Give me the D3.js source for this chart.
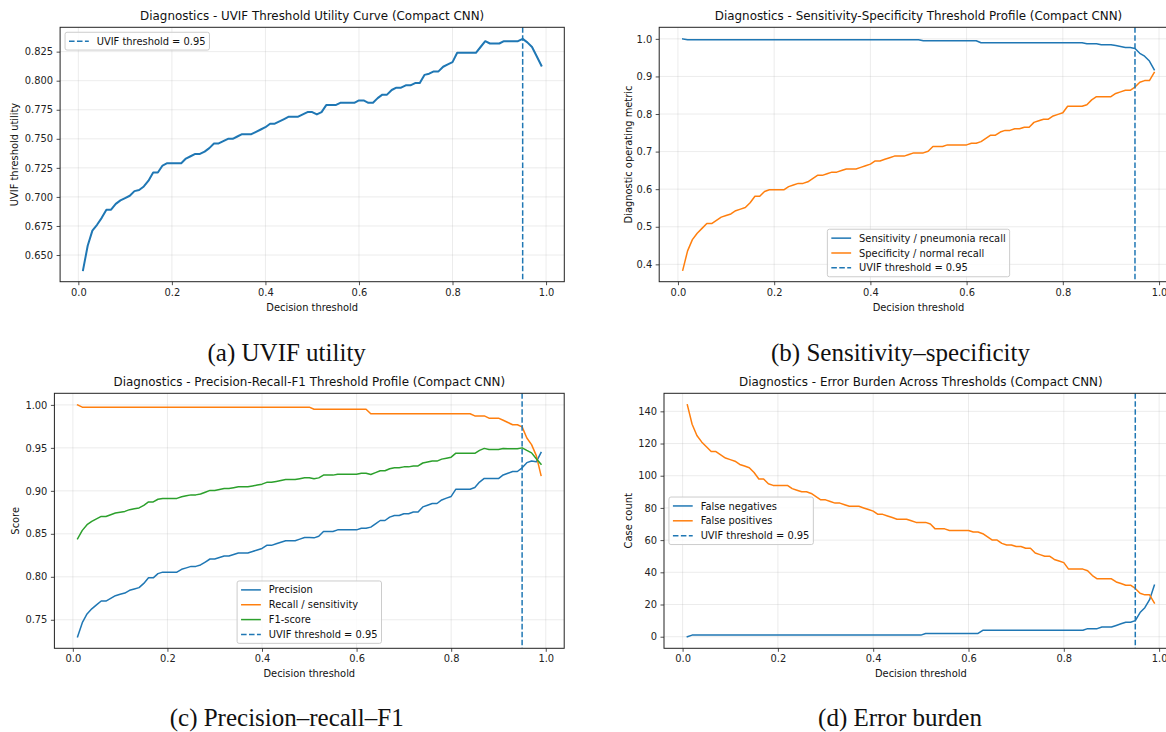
<!DOCTYPE html>
<html>
<head>
<meta charset="utf-8">
<script src="https://cdn.jsdelivr.net/npm/d3@7"></script>
<style>
    body { margin: 0; background: #fff; }
    svg { display: block; font-family: "DejaVu Sans", sans-serif; }
</style>
</head>
<body>
<svg id="chart" width="1166" height="732"></svg>
<script>
// decision thresholds 0.01 .. 0.99
const thresholds = [
    0.01, 0.02, 0.03, 0.04, 0.05, 0.06, 0.07, 0.08, 0.09, 0.10,
    0.11, 0.12, 0.13, 0.14, 0.15, 0.16, 0.17, 0.18, 0.19, 0.20,
    0.21, 0.22, 0.23, 0.24, 0.25, 0.26, 0.27, 0.28, 0.29, 0.30,
    0.31, 0.32, 0.33, 0.34, 0.35, 0.36, 0.37, 0.38, 0.39, 0.40,
    0.41, 0.42, 0.43, 0.44, 0.45, 0.46, 0.47, 0.48, 0.49, 0.50,
    0.51, 0.52, 0.53, 0.54, 0.55, 0.56, 0.57, 0.58, 0.59, 0.60,
    0.61, 0.62, 0.63, 0.64, 0.65, 0.66, 0.67, 0.68, 0.69, 0.70,
    0.71, 0.72, 0.73, 0.74, 0.75, 0.76, 0.77, 0.78, 0.79, 0.80,
    0.81, 0.82, 0.83, 0.84, 0.85, 0.86, 0.87, 0.88, 0.89, 0.90,
    0.91, 0.92, 0.93, 0.94, 0.95, 0.96, 0.97, 0.98, 0.99
];

const uvifUtility = [
    0.637, 0.658, 0.671, 0.676, 0.682, 0.689, 0.689, 0.694, 0.697, 0.699,
    0.701, 0.705, 0.706, 0.709, 0.714, 0.721, 0.721, 0.727, 0.729, 0.729,
    0.729, 0.729, 0.733, 0.735, 0.737, 0.737, 0.739, 0.742, 0.746, 0.746,
    0.748, 0.750, 0.750, 0.752, 0.754, 0.754, 0.754, 0.756, 0.758, 0.760,
    0.763, 0.763, 0.765, 0.767, 0.769, 0.769, 0.769, 0.771, 0.773, 0.773,
    0.771, 0.773, 0.779, 0.779, 0.779, 0.781, 0.781, 0.781, 0.781, 0.783,
    0.783, 0.781, 0.781, 0.785, 0.788, 0.788, 0.792, 0.794, 0.794, 0.796,
    0.796, 0.798, 0.798, 0.805, 0.806, 0.808, 0.808, 0.812, 0.814, 0.816,
    0.824, 0.824, 0.824, 0.824, 0.824, 0.829, 0.834, 0.832, 0.832, 0.832,
    0.834, 0.834, 0.834, 0.834, 0.836, 0.833, 0.829, 0.821, 0.813
];

const sensitivity = [
    1.0000, 0.9974, 0.9974, 0.9974, 0.9974, 0.9974, 0.9974, 0.9974, 0.9974, 0.9974,
    0.9974, 0.9974, 0.9974, 0.9974, 0.9974, 0.9974, 0.9974, 0.9974, 0.9974, 0.9974,
    0.9974, 0.9974, 0.9974, 0.9974, 0.9974, 0.9974, 0.9974, 0.9974, 0.9974, 0.9974,
    0.9974, 0.9974, 0.9974, 0.9974, 0.9974, 0.9974, 0.9974, 0.9974, 0.9974, 0.9974,
    0.9974, 0.9974, 0.9974, 0.9974, 0.9974, 0.9974, 0.9974, 0.9974, 0.9974, 0.9974,
    0.9949, 0.9949, 0.9949, 0.9949, 0.9949, 0.9949, 0.9949, 0.9949, 0.9949, 0.9949,
    0.9949, 0.9949, 0.9897, 0.9897, 0.9897, 0.9897, 0.9897, 0.9897, 0.9897, 0.9897,
    0.9897, 0.9897, 0.9897, 0.9897, 0.9897, 0.9897, 0.9897, 0.9897, 0.9897, 0.9897,
    0.9897, 0.9897, 0.9897, 0.9897, 0.9872, 0.9872, 0.9872, 0.9846, 0.9846, 0.9846,
    0.9821, 0.9795, 0.9769, 0.9769, 0.9744, 0.9615, 0.9538, 0.9410, 0.9179
];

const specificity = [
    0.3846, 0.4359, 0.4658, 0.4829, 0.4957, 0.5085, 0.5085, 0.5171, 0.5256, 0.5299,
    0.5342, 0.5427, 0.5470, 0.5513, 0.5641, 0.5812, 0.5812, 0.5940, 0.5983, 0.5983,
    0.5983, 0.5983, 0.6068, 0.6111, 0.6154, 0.6154, 0.6197, 0.6282, 0.6368, 0.6368,
    0.6410, 0.6453, 0.6453, 0.6496, 0.6538, 0.6538, 0.6538, 0.6581, 0.6624, 0.6667,
    0.6752, 0.6752, 0.6795, 0.6838, 0.6880, 0.6880, 0.6880, 0.6923, 0.6966, 0.6966,
    0.6966, 0.7009, 0.7137, 0.7137, 0.7137, 0.7179, 0.7179, 0.7179, 0.7179, 0.7179,
    0.7222, 0.7222, 0.7265, 0.7350, 0.7436, 0.7436, 0.7521, 0.7564, 0.7564, 0.7607,
    0.7607, 0.7650, 0.7650, 0.7778, 0.7821, 0.7863, 0.7863, 0.7949, 0.7991, 0.8034,
    0.8205, 0.8205, 0.8205, 0.8205, 0.8248, 0.8376, 0.8462, 0.8462, 0.8462, 0.8462,
    0.8547, 0.8590, 0.8632, 0.8632, 0.8718, 0.8846, 0.8889, 0.8889, 0.9103
];

const precision = [
    0.7303, 0.7466, 0.7568, 0.7627, 0.7673, 0.7718, 0.7718, 0.7749, 0.7780, 0.7796,
    0.7811, 0.7843, 0.7859, 0.7874, 0.7923, 0.7988, 0.7988, 0.8037, 0.8054, 0.8054,
    0.8054, 0.8054, 0.8087, 0.8104, 0.8121, 0.8121, 0.8138, 0.8172, 0.8207, 0.8207,
    0.8224, 0.8242, 0.8242, 0.8259, 0.8277, 0.8277, 0.8277, 0.8294, 0.8312, 0.8330,
    0.8366, 0.8366, 0.8384, 0.8402, 0.8420, 0.8420, 0.8420, 0.8438, 0.8457, 0.8457,
    0.8453, 0.8472, 0.8527, 0.8527, 0.8527, 0.8546, 0.8546, 0.8546, 0.8546, 0.8546,
    0.8565, 0.8565, 0.8578, 0.8616, 0.8655, 0.8655, 0.8694, 0.8713, 0.8713, 0.8733,
    0.8733, 0.8753, 0.8753, 0.8813, 0.8833, 0.8853, 0.8853, 0.8894, 0.8915, 0.8935,
    0.9019, 0.9019, 0.9019, 0.9019, 0.9038, 0.9102, 0.9145, 0.9143, 0.9143, 0.9143,
    0.9185, 0.9205, 0.9225, 0.9225, 0.9268, 0.9328, 0.9347, 0.9338, 0.9446
];

const f1Score = [
    0.8442, 0.8540, 0.8606, 0.8644, 0.8673, 0.8702, 0.8702, 0.8722, 0.8742, 0.8751,
    0.8761, 0.8781, 0.8791, 0.8801, 0.8831, 0.8871, 0.8871, 0.8902, 0.8912, 0.8912,
    0.8912, 0.8912, 0.8932, 0.8943, 0.8953, 0.8953, 0.8963, 0.8984, 0.9005, 0.9005,
    0.9015, 0.9026, 0.9026, 0.9036, 0.9047, 0.9047, 0.9047, 0.9057, 0.9068, 0.9078,
    0.9099, 0.9099, 0.9110, 0.9121, 0.9131, 0.9131, 0.9131, 0.9142, 0.9153, 0.9153,
    0.9140, 0.9151, 0.9183, 0.9183, 0.9183, 0.9194, 0.9194, 0.9194, 0.9194, 0.9194,
    0.9205, 0.9205, 0.9190, 0.9212, 0.9234, 0.9234, 0.9257, 0.9268, 0.9268, 0.9279,
    0.9279, 0.9290, 0.9290, 0.9324, 0.9335, 0.9346, 0.9346, 0.9369, 0.9380, 0.9392,
    0.9438, 0.9438, 0.9438, 0.9438, 0.9436, 0.9471, 0.9494, 0.9481, 0.9481, 0.9481,
    0.9492, 0.9491, 0.9489, 0.9489, 0.9500, 0.9470, 0.9442, 0.9374, 0.9311
];

const falseNegatives = [
    0, 1, 1, 1, 1, 1, 1, 1, 1, 1,
    1, 1, 1, 1, 1, 1, 1, 1, 1, 1,
    1, 1, 1, 1, 1, 1, 1, 1, 1, 1,
    1, 1, 1, 1, 1, 1, 1, 1, 1, 1,
    1, 1, 1, 1, 1, 1, 1, 1, 1, 1,
    2, 2, 2, 2, 2, 2, 2, 2, 2, 2,
    2, 2, 4, 4, 4, 4, 4, 4, 4, 4,
    4, 4, 4, 4, 4, 4, 4, 4, 4, 4,
    4, 4, 4, 4, 5, 5, 5, 6, 6, 6,
    7, 8, 9, 9, 10, 15, 18, 23, 32
];

const falsePositives = [
    144, 132, 125, 121, 118, 115, 115, 113, 111, 110,
    109, 107, 106, 105, 102, 98, 98, 95, 94, 94,
    94, 94, 92, 91, 90, 90, 89, 87, 85, 85,
    84, 83, 83, 82, 81, 81, 81, 80, 79, 78,
    76, 76, 75, 74, 73, 73, 73, 72, 71, 71,
    71, 70, 67, 67, 67, 66, 66, 66, 66, 66,
    65, 65, 64, 62, 60, 60, 58, 57, 57, 56,
    56, 55, 55, 52, 51, 50, 50, 48, 47, 46,
    42, 42, 42, 42, 41, 38, 36, 36, 36, 36,
    34, 33, 32, 32, 30, 27, 26, 26, 21
];

const uvifThreshold = 0.95;

const xTicks = [0.0, 0.2, 0.4, 0.6, 0.8, 1.0];
const utilityTicks = [0.650, 0.675, 0.700, 0.725, 0.750, 0.775, 0.800, 0.825];
const operatingTicks = [0.4, 0.5, 0.6, 0.7, 0.8, 0.9, 1.0];
const scoreTicks = [0.75, 0.80, 0.85, 0.90, 0.95, 1.00];
const countTicks = [0, 20, 40, 60, 80, 100, 120, 140];

const BLUE = "#1f77b4", ORANGE = "#ff7f0e", GREEN = "#2ca02c";
const FS = 9.9, TITLE_FS = 11.9;
const thresholdLabel = `UVIF threshold = ${uvifThreshold}`;

const panels = [
    {
        box: { left: 60.1, right: 564.3, top: 27.3, bottom: 281.7 },
        title: "Diagnostics - UVIF Threshold Utility Curve (Compact CNN)",
        ylabel: "UVIF threshold utility", ylabelX: 15,
        yTicks: utilityTicks, yFormat: ".3f",
        series: [{ values: uvifUtility, color: BLUE, width: 2 }],
        legendLoc: "upper left",
        caption: "(a) UVIF utility", captionX: 286.7, captionY: 360.5
    },
    {
        box: { left: 659.2, right: 1177.8, top: 27.3, bottom: 281.7 },
        title: "Diagnostics - Sensitivity-Specificity Threshold Profile (Compact CNN)",
        ylabel: "Diagnostic operating metric", ylabelX: 628.4,
        yTicks: operatingTicks, yFormat: ".1f",
        series: [
            { values: sensitivity, color: BLUE, width: 1.5, label: "Sensitivity / pneumonia recall" },
            { values: specificity, color: ORANGE, width: 1.5, label: "Specificity / normal recall" }
        ],
        legendLoc: "lower center",
        caption: "(b) Sensitivity\u2013specificity", captionX: 900.5, captionY: 360.5
    },
    {
        box: { left: 54.4, right: 564.2, top: 393.3, bottom: 648.3 },
        title: "Diagnostics - Precision-Recall-F1 Threshold Profile (Compact CNN)",
        ylabel: "Score", ylabelX: 15.6,
        yTicks: scoreTicks, yFormat: ".2f",
        series: [
            { values: precision, color: BLUE, width: 1.5, label: "Precision" },
            { values: sensitivity, color: ORANGE, width: 1.5, label: "Recall / sensitivity" },
            { values: f1Score, color: GREEN, width: 1.5, label: "F1-score" }
        ],
        legendLoc: "lower center",
        caption: "(c) Precision\u2013recall\u2013F1", captionX: 286.7, captionY: 725.6
    },
    {
        box: { left: 664, right: 1177.7, top: 393.3, bottom: 648.3 },
        title: "Diagnostics - Error Burden Across Thresholds (Compact CNN)",
        ylabel: "Case count", ylabelX: 628.4,
        yTicks: countTicks, yFormat: "d",
        series: [
            { values: falseNegatives, color: BLUE, width: 1.5, label: "False negatives" },
            { values: falsePositives, color: ORANGE, width: 1.5, label: "False positives" }
        ],
        legendLoc: "center left",
        caption: "(d) Error burden", captionX: 900, captionY: 725.6
    }
];

const svg = d3.select("#chart");

function paddedExtent(values) {
    const [lo, hi] = d3.extent(values);
    const pad = (hi - lo) * 0.05;
    return [lo - pad, hi + pad];
}

function drawPanel(cfg, i) {
    const { left, right, top, bottom } = cfg.box;
    const g = svg.append("g");

    const x = d3.scaleLinear().domain(paddedExtent(thresholds)).range([left, right]);
    const y = d3.scaleLinear()
        .domain(paddedExtent(cfg.series.flatMap(s => s.values)))
        .range([bottom, top]);

    const clipId = `clip-${i}`;
    g.append("clipPath").attr("id", clipId)
        .append("rect")
        .attr("x", left).attr("y", top)
        .attr("width", right - left).attr("height", bottom - top);

    // grid
    const grid = g.append("g")
        .attr("stroke", "#b0b0b0").attr("stroke-opacity", 0.3).attr("stroke-width", 0.8);
    grid.selectAll(".gx").data(xTicks).join("line")
        .attr("x1", d => x(d)).attr("x2", d => x(d))
        .attr("y1", top).attr("y2", bottom);
    grid.selectAll(".gy").data(cfg.yTicks).join("line")
        .attr("class", "gy")
        .attr("x1", left).attr("x2", right)
        .attr("y1", d => y(d)).attr("y2", d => y(d));

    // curves
    const line = d3.line().x((d, j) => x(thresholds[j])).y(d => y(d));
    const plot = g.append("g").attr("clip-path", `url(#${clipId})`);
    cfg.series.forEach(s => {
        plot.append("path")
            .attr("d", line(s.values))
            .attr("fill", "none")
            .attr("stroke", s.color)
            .attr("stroke-width", s.width)
            .attr("stroke-linejoin", "round")
            .attr("stroke-linecap", "square");
    });

    plot.append("line")
        .attr("x1", x(uvifThreshold)).attr("x2", x(uvifThreshold))
        .attr("y1", top).attr("y2", bottom)
        .attr("stroke", BLUE)
        .attr("stroke-width", 1.5)
        .attr("stroke-dasharray", "5.55,2.4");

    // axes
    const xAxis = g.append("g")
        .attr("transform", `translate(0,${bottom})`)
        .call(d3.axisBottom(x).tickValues(xTicks).tickFormat(d3.format(".1f"))
            .tickSize(3.5).tickPadding(3.5));
    const yAxis = g.append("g")
        .attr("transform", `translate(${left},0)`)
        .call(d3.axisLeft(y).tickValues(cfg.yTicks).tickFormat(d3.format(cfg.yFormat))
            .tickSize(3.5).tickPadding(3.5));
    [xAxis, yAxis].forEach(a => {
        a.select(".domain").remove();
        a.selectAll(".tick line").attr("stroke", "#222").attr("stroke-width", 0.8);
        a.selectAll(".tick text")
            .attr("fill", "#222")
            .style("font-family", "DejaVu Sans")
            .style("font-size", `${FS}px`);
    });

    g.append("rect")
        .attr("x", left).attr("y", top)
        .attr("width", right - left).attr("height", bottom - top)
        .attr("fill", "none").attr("stroke", "#222").attr("stroke-width", 1);

    // labels
    g.append("text")
        .attr("x", (left + right) / 2).attr("y", top - 7)
        .attr("text-anchor", "middle")
        .attr("fill", "#111")
        .style("font-size", `${TITLE_FS}px`)
        .text(cfg.title);

    g.append("text")
        .attr("x", (left + right) / 2).attr("y", bottom + 28.9)
        .attr("text-anchor", "middle")
        .attr("fill", "#111")
        .style("font-size", `${FS}px`)
        .text("Decision threshold");

    g.append("text")
        .attr("transform", `translate(${cfg.ylabelX + 3.3},${(top + bottom) / 2}) rotate(-90)`)
        .attr("text-anchor", "middle")
        .attr("fill", "#111")
        .style("font-size", `${FS}px`)
        .text(cfg.ylabel);

    // legend
    const entries = cfg.series.filter(s => s.label)
        .map(s => ({ label: s.label, color: s.color, dash: null }))
        .concat([{ label: thresholdLabel, color: BLUE, dash: "5.55,2.4" }]);

    const pad = 0.4 * FS, rowGap = 0.5 * FS, handle = 2 * FS, textPad = 0.8 * FS, axPad = 0.5 * FS;
    const legend = g.append("g");
    const frame = legend.append("rect")
        .attr("rx", 2).attr("ry", 2)
        .attr("fill", "#fff").attr("fill-opacity", 0.8)
        .attr("stroke", "#cccccc").attr("stroke-width", 1);

    const texts = entries.map((e, j) => legend.append("text")
        .attr("dy", "0.36em")
        .attr("fill", "#111")
        .style("font-size", `${FS}px`)
        .text(e.label));
    const textW = d3.max(texts, t => t.node().getComputedTextLength());
    const boxW = pad * 2 + handle + textPad + textW;
    const boxH = pad * 2 + entries.length * FS + (entries.length - 1) * rowGap;

    let bx, by;
    if (cfg.legendLoc === "upper left") {
        bx = left + axPad; by = top + axPad;
    } else if (cfg.legendLoc === "lower center") {
        bx = (left + right) / 2 - boxW / 2; by = bottom - axPad - boxH;
    } else {
        bx = left + axPad; by = (top + bottom) / 2 - boxH / 2;
    }
    frame.attr("x", bx).attr("y", by).attr("width", boxW).attr("height", boxH);

    entries.forEach((e, j) => {
        const cy = by + pad + FS / 2 + j * (FS + rowGap);
        legend.append("line")
            .attr("x1", bx + pad).attr("x2", bx + pad + handle)
            .attr("y1", cy).attr("y2", cy)
            .attr("stroke", e.color).attr("stroke-width", 1.5)
            .attr("stroke-dasharray", e.dash);
        texts[j].attr("x", bx + pad + handle + textPad).attr("y", cy);
    });

    // caption
    svg.append("text")
        .attr("x", cfg.captionX).attr("y", cfg.captionY)
        .attr("text-anchor", "middle")
        .attr("fill", "#111")
        .style("font-family", "'Liberation Serif', serif")
        .style("font-size", "25px")
        .text(cfg.caption);
}

panels.forEach(drawPanel);
</script>
</body>
</html>
